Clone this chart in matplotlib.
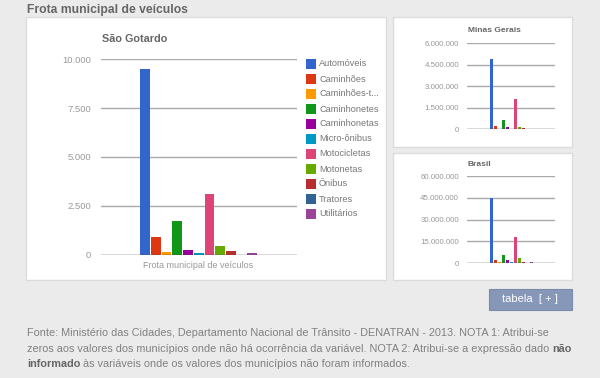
import matplotlib
matplotlib.use("Agg")
import matplotlib.pyplot as plt
from matplotlib.patches import Rectangle
from matplotlib.ticker import FuncFormatter

plt.rcParams['font.family'] = ['Liberation Sans', 'DejaVu Sans']

categories = ["Automóveis", "Caminhões", "Caminhões-trator", "Caminhonetes", "Caminhonetas",
              "Micro-ônibus", "Motocicletas", "Motonetas", "Ônibus", "Tratores", "Utilitários"]
legend_labels = ["Automóveis", "Caminhões", "Caminhões-t...", "Caminhonetes", "Caminhonetas",
                 "Micro-ônibus", "Motocicletas", "Motonetas", "Ônibus", "Tratores", "Utilitários"]
colors = ["#3366cc", "#dc3912", "#ff9900", "#109618", "#990099", "#0099c6",
          "#dd4477", "#66aa00", "#b82e2e", "#316395", "#994499"]

sao_gotardo = [9519, 890, 140, 1725, 240, 87, 3091, 445, 190, 0, 80]
minas_gerais = [4880000, 240000, 50000, 650000, 180000, 20000, 2100000, 180000, 60000, 5000, 40000]
brasil = [45000000, 2400000, 550000, 5500000, 2200000, 360000, 17800000, 3200000, 550000, 27000, 600000]

main_ticks = [0, 2500, 5000, 7500, 10000]
mg_ticks = [0, 1500000, 3000000, 4500000, 6000000]
br_ticks = [0, 15000000, 30000000, 45000000, 60000000]

W, H = 600, 378
fig = plt.figure(figsize=(6, 3.78), dpi=100)
fig.patch.set_facecolor("#ebebeb")


def fx(x):
    return x / W


def fy(y):
    return 1 - y / H


def add_box(x0, y0, x1, y1):
    fig.patches.append(Rectangle((fx(x0), fy(y1)), fx(x1) - fx(x0), fy(y0) - fy(y1),
                                 transform=fig.transFigure, facecolor="white",
                                 edgecolor="#dcdcdc", lw=1, zorder=-5))


add_box(26, 17, 386, 280)
add_box(392.5, 17, 571.5, 146.5)
add_box(392.5, 152.5, 571.5, 280)

fig.text(fx(27), fy(10), "Frota municipal de veículos", fontsize=8.7, fontweight="bold",
         color="#666666", ha="left", va="center")


def thousands(v, pos=None):
    return "{:,.0f}".format(v).replace(",", ".")


def make_axes(x0, x1, y0, y1, values, ticks, slot_px, barw, fs, pad):
    ax = fig.add_axes([fx(x0), fy(y1), fx(x1) - fx(x0), fy(y0) - fy(y1)], zorder=5)
    ax.patch.set_alpha(0)
    n = len(values)
    slots = (x1 - x0) / slot_px
    extra = (slots - n) / 2
    xs = list(range(n))
    ax.bar(xs, values, width=barw, color=colors, zorder=3)
    ax.set_xlim(-0.5 - extra, n - 0.5 + extra)
    ax.set_ylim(ticks[0], ticks[-1])
    ax.set_yticks(ticks)
    ax.yaxis.set_major_formatter(FuncFormatter(thousands))
    ax.tick_params(axis="y", length=0, labelsize=fs, labelcolor="#999999", pad=pad)
    ax.set_xticks([])
    for s in ax.spines.values():
        s.set_visible(False)
    for t in ticks[1:]:
        ax.axhline(t, color="#aaaaaa", lw=1, zorder=1)
    ax.axhline(0, color="#444444", lw=1, zorder=4)
    return ax


ax_main = make_axes(100.7, 296.7, 59.3, 254.7, sao_gotardo, main_ticks, 10.7, 0.9, 6.8, 7)
fig.text(fx(101.5), fy(39), "São Gotardo", fontsize=7.8, fontweight="bold", color="#666666",
         ha="left", va="center")
fig.text(fx(198), fy(265), "Frota municipal de veículos", fontsize=6.5, color="#999999",
         ha="center", va="center")

# legend
for i, (lab, c) in enumerate(zip(legend_labels, colors)):
    yc = 64 + 15 * i
    fig.patches.append(Rectangle((fx(305.5), fy(yc + 5)), fx(10), 10 / H,
                                 transform=fig.transFigure, facecolor=c, edgecolor="none"))
    fig.text(fx(319), fy(yc), lab, fontsize=6.6, color="#777777", ha="left", va="center")

ax_mg = make_axes(467.3, 554.7, 43, 129.3, minas_gerais, mg_ticks, 4.0, 0.75, 5.7, 6)
fig.text(fx(467.7), fy(30.7), "Minas Gerais", fontsize=6, fontweight="bold", color="#666666",
         ha="left", va="center")
ax_br = make_axes(467.3, 554.7, 176.3, 263, brasil, br_ticks, 4.0, 0.75, 5.7, 6)
fig.text(fx(467.7), fy(164), "Brasil", fontsize=6, fontweight="bold", color="#666666",
         ha="left", va="center")

# button
fig.patches.append(Rectangle((fx(488.5), fy(309.5)), fx(83), 21 / H,
                             transform=fig.transFigure, facecolor="#8797b8",
                             edgecolor="#7a8aab", lw=0.8))
fig.text(fx(530), fy(299), "tabela  [ + ]", fontsize=8, color="white",
         ha="center", va="center")

# footnote
fs_note = 7.8
note_color = "#808080"
renderer = fig.canvas.get_renderer()


def segs(y, parts):
    x = 27
    for txt, bold in parts:
        t = fig.text(fx(x), fy(y), txt, fontsize=fs_note, color=note_color if not bold else "#666666",
                     fontweight="bold" if bold else "normal", ha="left", va="center")
        bb = t.get_window_extent(renderer=renderer)
        x += bb.width


segs(333, [("Fonte: Ministério das Cidades, Departamento Nacional de Trânsito - DENATRAN - 2013. "
            "NOTA 1: Atribui-se", False)])
segs(349, [("zeros aos valores dos municípios onde não há ocorrência da variável. NOTA 2: "
            "Atribui-se a expressão dado ", False), ("não", True)])
segs(364, [("informado", True), (" às variáveis onde os valores dos municípios não foram informados.", False)])

fig.savefig("out.png", dpi=100, facecolor=fig.get_facecolor())
